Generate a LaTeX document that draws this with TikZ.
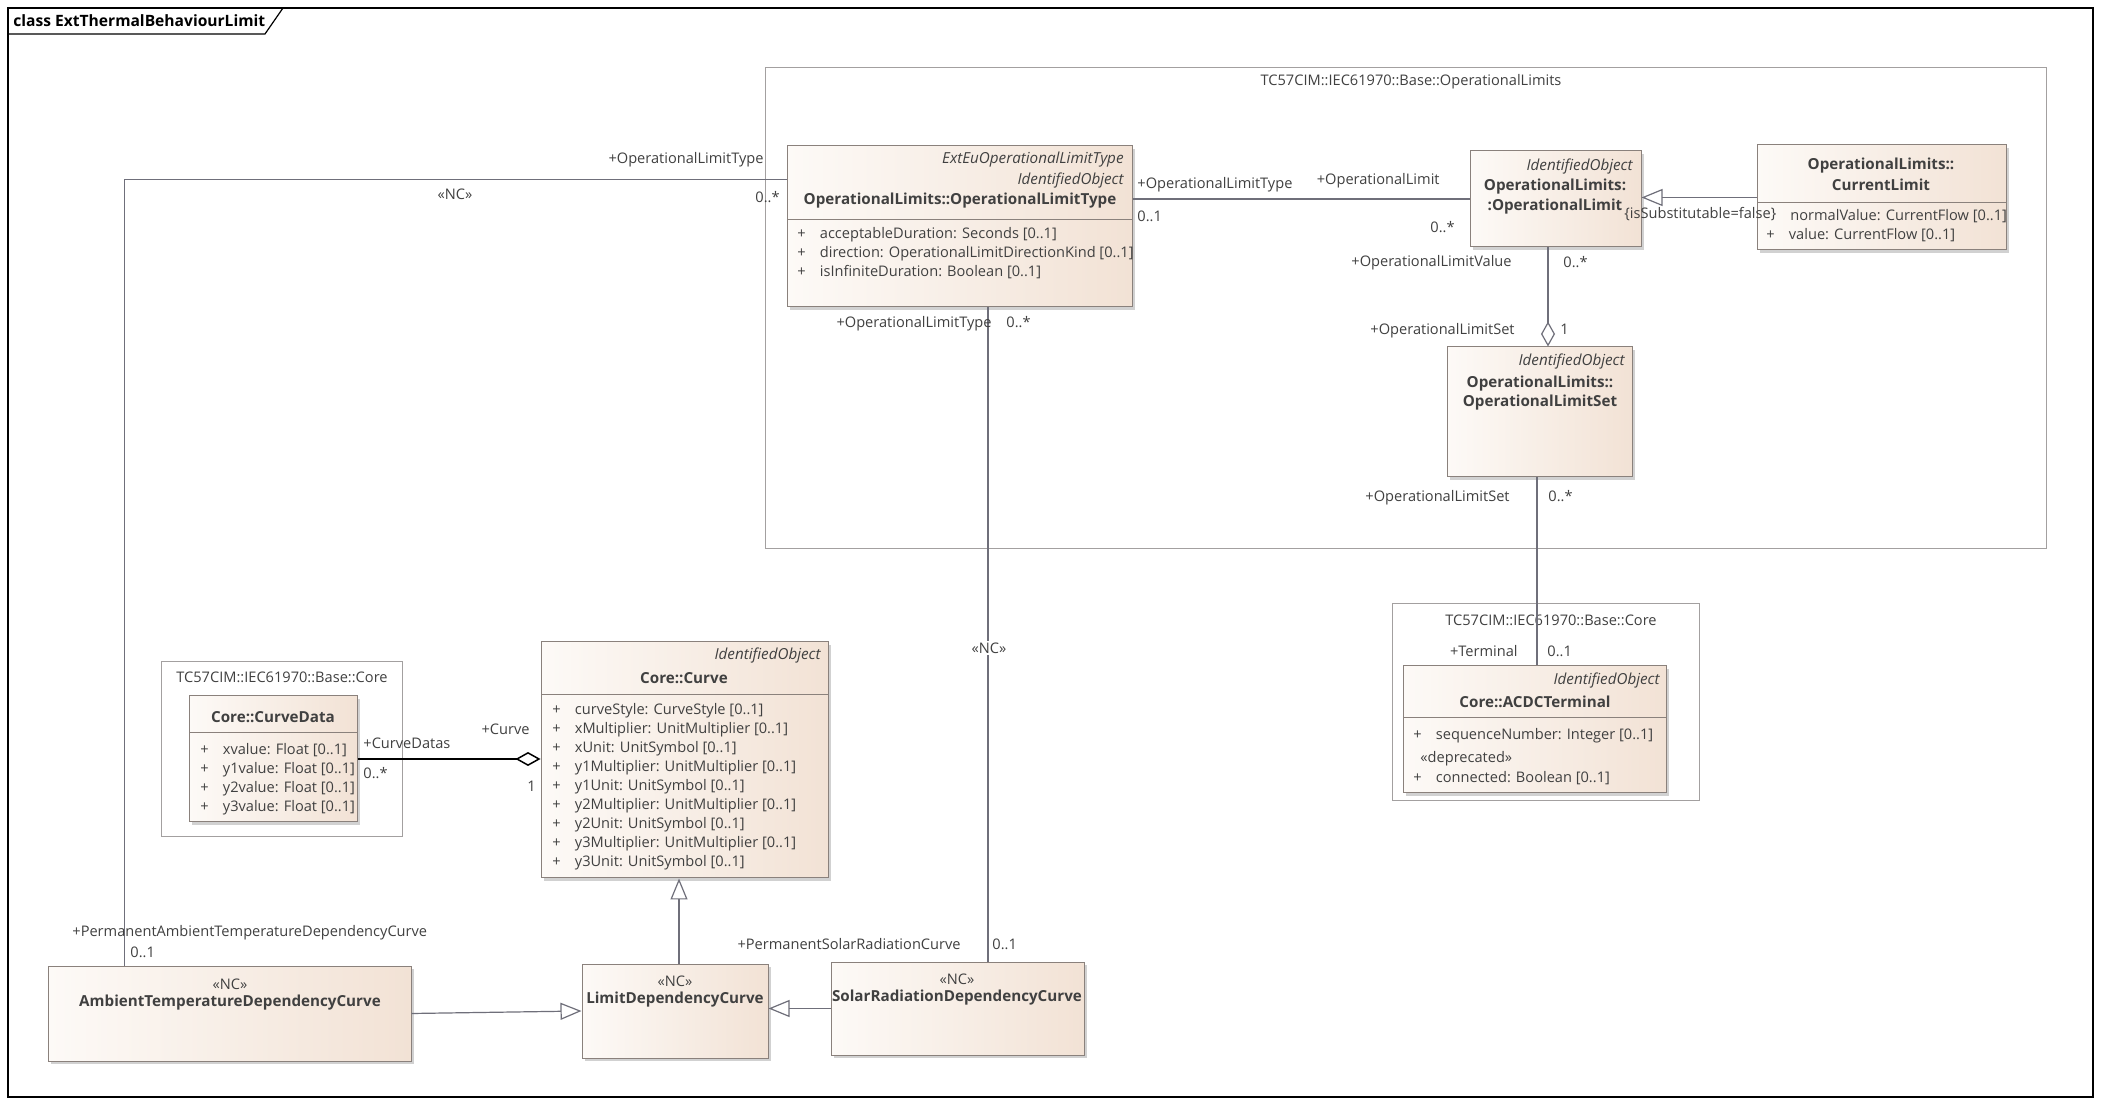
\documentclass[tikz,border=0pt]{standalone}
\usepackage{fontspec}
\setmainfont{Open Sans}
\usetikzlibrary{arrows.meta,fit,shadows}

\definecolor{clsleft}{HTML}{FDFAF7}
\definecolor{clsright}{HTML}{F2E2D5}
\definecolor{clsline}{HTML}{8A817C}
\definecolor{pkgline}{HTML}{A3A0A0}
\definecolor{connline}{HTML}{6F6F7A}
\definecolor{txtcol}{HTML}{404040}

\newcommand{\attr}[1]{\makebox[11.25pt][l]{+}#1}

\tikzset{>=latex}

\begin{document}
\begin{tikzpicture}[x=0.5pt, y=-0.5pt, font=\fontsize{7.3}{9.5}\selectfont, text=txtcol]

	\tikzstyle{frame_box} = [draw=black, line width=0.6pt, inner sep=0pt]
	\tikzstyle{pkg_box} = [draw=pkgline, line width=0.5pt, fill=white, inner sep=0pt]
	\tikzstyle{class_box} = [draw=clsline, line width=0.5pt, left color=clsleft, right color=clsright, inner sep=0pt, drop shadow={shadow xshift=1.5pt, shadow yshift=-1.5pt, fill=black!45, opacity=0.4}]
	\tikzstyle{cls_sep} = [draw=clsline, line width=0.5pt]
	\tikzstyle{cls_name} = [font=\fontsize{7.6}{9.5}\selectfont\bfseries, inner sep=0pt]
	\tikzstyle{stereo} = [font=\fontsize{7.6}{9.5}\selectfont\itshape, inner sep=0pt, anchor=mid east]
	\tikzstyle{attr_row} = [inner sep=0pt, anchor=mid west]
	\tikzstyle{role} = [inner sep=0pt]
	\tikzstyle{conn} = [draw=connline, line width=0.6pt]
	\tikzstyle{gen} = [conn, -{Triangle[open, fill=white, length=10.5pt, width=8.5pt]}]
	\tikzstyle{aggr} = [conn, -{Diamond[open, fill=white, length=12.5pt, width=7pt]}]
	\tikzstyle{aggr_b} = [draw=black, line width=0.75pt, -{Diamond[open, fill=white, length=12.5pt, width=7pt]}]

	\useasboundingbox[fill=white] (0,0) rectangle (2101,1106);

%------------------------------------------------------------
	\node[frame_box, fit={(8,8) (2093,1097)}] (frame) {};
	\draw[black, line width=0.6pt] (8,34) -- (265,34) -- (283,8);
	\node[role, anchor=mid west, font=\fontsize{7.8}{9.5}\selectfont\bfseries, text=black] (title) at (13,21) {class ExtThermalBehaviourLimit};

%------------------------------------------------------------
	\node[pkg_box, fit={(765,68) (2046,549)}] (p_ol) {};
	\node[role] (p_ol_t) at (1411,82) {TC57CIM::IEC61970::Base::OperationalLimits};

	\node[pkg_box, fit={(1392,604) (1699,801)}] (p_core_r) {};
	\node[role] (p_core_r_t) at (1551,620) {TC57CIM::IEC61970::Base::Core};

	\node[pkg_box, fit={(161,662) (402,837)}] (p_core_l) {};
	\node[role] (p_core_l_t) at (282,677) {TC57CIM::IEC61970::Base::Core};

%------------------------------------------------------------
	\node[class_box, fit={(787,146) (1132,307)}] (olt) {};
	\node[stereo] (olt_s1) at (1124,158) {ExtEuOperationalLimitType};
	\node[stereo] (olt_s2) at (1124,179) {IdentifiedObject};
	\node[cls_name] (olt_n) at (960,201) {OperationalLimits::OperationalLimitType};
	\draw[cls_sep] (787,220) -- (1132,220);
	\node[attr_row] (olt_a1) at (797,233) {\attr{acceptableDuration: Seconds [0..1]}};
	\node[attr_row] (olt_a2) at (797,252) {\attr{direction: OperationalLimitDirectionKind [0..1]}};
	\node[attr_row] (olt_a3) at (797,271) {\attr{isInfiniteDuration: Boolean [0..1]}};

	\node[class_box, fit={(1470,151) (1641,247)}] (ol) {};
	\node[stereo] (ol_s) at (1633,165) {IdentifiedObject};
	\node[cls_name] (ol_n1) at (1555,187) {OperationalLimits:};
	\node[cls_name] (ol_n2) at (1555,207) {:OperationalLimit};

	\node[class_box, fit={(1757,145) (2006,250)}] (cl) {};
	\node[cls_name] (cl_n1) at (1881,166) {OperationalLimits::};
	\node[cls_name] (cl_n2) at (1881,185) {CurrentLimit};
	\draw[cls_sep] (1757,203) -- (2006,203);
	\node[attr_row] (cl_a1) at (1790,215) {normalValue: CurrentFlow [0..1]};
	\node[attr_row] (cl_a2) at (1766,234) {\attr{value: CurrentFlow [0..1]}};

	\node[class_box, fit={(1447,347) (1632,477)}] (ols) {};
	\node[stereo] (ols_s) at (1625,360) {IdentifiedObject};
	\node[cls_name] (ols_n1) at (1540,384) {OperationalLimits::};
	\node[cls_name] (ols_n2) at (1540,403) {OperationalLimitSet};

%------------------------------------------------------------
	\node[class_box, fit={(1403,666) (1666,793)}] (term) {};
	\node[stereo] (term_s) at (1660,679) {IdentifiedObject};
	\node[cls_name] (term_n) at (1535,702) {Core::ACDCTerminal};
	\draw[cls_sep] (1403,718) -- (1666,718);
	\node[attr_row] (term_a1) at (1413,734) {\attr{sequenceNumber: Integer [0..1]}};
	\node[attr_row] (term_d) at (1420,757) {«deprecated»};
	\node[attr_row] (term_a2) at (1413,777) {\attr{connected: Boolean [0..1]}};

%------------------------------------------------------------
	\node[class_box, fit={(189,696) (357,822)}] (cdata) {};
	\node[cls_name] (cdata_n) at (273,717) {Core::CurveData};
	\draw[cls_sep] (189,733) -- (357,733);
	\node[attr_row] (cdata_a1) at (200,749) {\attr{xvalue: Float [0..1]}};
	\node[attr_row] (cdata_a2) at (200,768) {\attr{y1value: Float [0..1]}};
	\node[attr_row] (cdata_a3) at (200,787) {\attr{y2value: Float [0..1]}};
	\node[attr_row] (cdata_a4) at (200,806) {\attr{y3value: Float [0..1]}};

	\node[class_box, fit={(541,642) (828,878)}] (crv) {};
	\node[stereo] (crv_s) at (821,654) {IdentifiedObject};
	\node[cls_name] (crv_n) at (684,678) {Core::Curve};
	\draw[cls_sep] (541,695) -- (828,695);
	\node[attr_row] (crv_a1) at (552,709) {\attr{curveStyle: CurveStyle [0..1]}};
	\node[attr_row] (crv_a2) at (552,728) {\attr{xMultiplier: UnitMultiplier [0..1]}};
	\node[attr_row] (crv_a3) at (552,747) {\attr{xUnit: UnitSymbol [0..1]}};
	\node[attr_row] (crv_a4) at (552,766) {\attr{y1Multiplier: UnitMultiplier [0..1]}};
	\node[attr_row] (crv_a5) at (552,785) {\attr{y1Unit: UnitSymbol [0..1]}};
	\node[attr_row] (crv_a6) at (552,804) {\attr{y2Multiplier: UnitMultiplier [0..1]}};
	\node[attr_row] (crv_a7) at (552,823) {\attr{y2Unit: UnitSymbol [0..1]}};
	\node[attr_row] (crv_a8) at (552,842) {\attr{y3Multiplier: UnitMultiplier [0..1]}};
	\node[attr_row] (crv_a9) at (552,861) {\attr{y3Unit: UnitSymbol [0..1]}};

%------------------------------------------------------------
	\node[class_box, fit={(48,966) (411,1061)}] (amb) {};
	\node[role] (amb_st) at (230,984) {«NC»};
	\node[cls_name] (amb_n) at (230,1003) {AmbientTemperatureDependencyCurve};

	\node[class_box, fit={(582,964) (768,1058)}] (ldc) {};
	\node[role] (ldc_st) at (675,981) {«NC»};
	\node[cls_name] (ldc_n) at (675,1000) {LimitDependencyCurve};

	\node[class_box, fit={(831,962) (1084,1055)}] (sol) {};
	\node[role] (sol_st) at (957,979) {«NC»};
	\node[cls_name] (sol_n) at (957,998) {SolarRadiationDependencyCurve};

%------------------------------------------------------------
	\draw[conn] ([yshift=-17pt]olt.north west) -| ([xshift=38.5pt]amb.north west);
	\node[role, anchor=mid east] (l1_r1) at (764,158) {+OperationalLimitType};
	\node[role, anchor=mid west] (l1_m1) at (755,197) {0..*};
	\node[role] (l1_nc) at (455,194) {«NC»};
	\node[role, anchor=mid west] (l1_r2) at (72,931) {+PermanentAmbientTemperatureDependencyCurve};
	\node[role, anchor=mid west] (l1_m2) at (130,952) {0..1};

	\draw[conn] (ol.west -| olt.east) -- (ol.west);
	\node[role, anchor=mid west] (l2_r1) at (1137,183) {+OperationalLimitType};
	\node[role, anchor=mid west] (l2_m1) at (1137,216) {0..1};
	\node[role, anchor=mid east] (l2_r2) at (1440,179) {+OperationalLimit};
	\node[role, anchor=mid east] (l2_m2) at (1455,227) {0..*};

	\draw[gen] (cl.west) -- (cl.west -| ol.east);
	\node[role, anchor=mid west] (l10_c) at (1624,213) {\{isSubstitutable=false\}};

	\draw[aggr] ([xshift=-3.75pt]ol.south) -- ([xshift=-3.75pt]ol.south |- ols.north);
	\node[role, anchor=mid east] (l3_r1) at (1512,261) {+OperationalLimitValue};
	\node[role, anchor=mid west] (l3_m1) at (1563,262) {0..*};
	\node[role, anchor=mid east] (l3_r2) at (1515,329) {+OperationalLimitSet};
	\node[role, anchor=mid west] (l3_m2) at (1560,329) {1};

	\draw[conn] ([xshift=-1.25pt]ols.south) -- ([xshift=-1.25pt]ols.south |- term.north);
	\node[role, anchor=mid east] (l4_r1) at (1510,496) {+OperationalLimitSet};
	\node[role, anchor=mid west] (l4_m1) at (1548,496) {0..*};
	\node[role, anchor=mid east] (l4_r2) at (1518,651) {+Terminal};
	\node[role, anchor=mid west] (l4_m2) at (1547,651) {0..1};

	\draw[conn] ([xshift=14.25pt]olt.south) -- ([xshift=14.25pt]olt.south |- sol.north);
	\node[role, anchor=mid east] (l5_r1) at (992,322) {+OperationalLimitType};
	\node[role, anchor=mid west] (l5_m1) at (1006,322) {0..*};
	\node[role, fill=white, inner sep=1pt] (l5_nc) at (989,648) {«NC»};
	\node[role, anchor=mid east] (l5_r2) at (961,944) {+PermanentSolarRadiationCurve};
	\node[role, anchor=mid west] (l5_m2) at (992,944) {0..1};

	\draw[aggr_b] (cdata.east) -- (cdata.east -| crv.west);
	\node[role, anchor=mid west] (l6_r1) at (363,743) {+CurveDatas};
	\node[role, anchor=mid west] (l6_m1) at (363,773) {0..*};
	\node[role, anchor=mid east] (l6_r2) at (530,729) {+Curve};
	\node[role, anchor=mid east] (l6_m2) at (536,786) {1};

	\draw[gen] ([xshift=2pt]ldc.north) -- ([xshift=2pt]ldc.north |- crv.south);
	\draw[gen] (amb.east) -- (ldc.west);
	\draw[gen] (sol.west) -- (sol.west -| ldc.east);

\end{tikzpicture}
\end{document}
